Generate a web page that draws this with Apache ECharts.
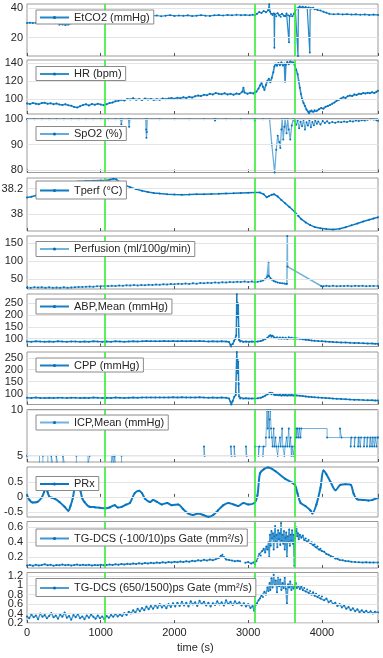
<!DOCTYPE html>
<html><head><meta charset="utf-8">
<script src="https://cdn.jsdelivr.net/npm/echarts@6/dist/echarts.min.js"></script>
<style>html,body{margin:0;padding:0;background:#fff}#c{width:383px;height:658px}</style>
</head><body><div id="c"></div>
<script>
// ---------------- DATA ----------------
const xTicks = [0, 1000, 2000, 3000, 4000];
const eventTimes = [1060, 3090, 3632];
const seriesNames = ['EtCO2 (mmHg)', 'HR (bpm)', 'SpO2 (%)', 'Tperf (°C)', 'Perfusion (ml/100g/min)',
  'ABP,Mean (mmHg)', 'CPP (mmHg)', 'ICP,Mean (mmHg)', 'PRx', 'TG-DCS (-100/10)ps Gate (mm²/s)', 'TG-DCS (650/1500)ps Gate (mm²/s)'];
const yTickLabels = [[20, 40], [100, 120, 140], [80, 90, 100], [38, 38.2], [50, 100, 150], [100, 150, 200, 250],
  [100, 150, 200, 250], [5, 10], [-0.5, 0, 0.5], [0.2, 0.4, 0.6], [0.2, 0.4, 0.6, 0.8, 1, 1.2]];
const yLimits = [[7.6, 42.9], [83.7, 143.7], [79, 100.3], [37.868, 38.282], [22.6, 170], [67.6, 286.7],
  [55, 274], [4.3, 10.1], [-0.667, 0.99], [0.05, 0.68], [0.2, 1.27]];

const etco2 = [[0,30],[40,30.2],[80,30],[120,30.1],[180,30],[240,30.2],[300,30],[360,30.1],[420,29.8],[440,28.8],[480,29],[520,28.7],[560,28.9],[600,29.9],[660,30],[720,30.2],[780,30],[840,30.1],[900,30.3],[960,30.1],[1020,30.4],[1060,32],[1100,34.5],[1160,34.8],[1220,34.6],[1280,35],[1340,34.7],[1400,35.1],[1460,34.8],[1520,35],[1580,34.6],[1640,35.2],[1700,34.9],[1760,35.1],[1820,34.6],[1880,35],[1940,35.3],[2000,34.8],[2060,35.1],[2120,34.9],[2180,35.2],[2240,34.7],[2300,35],[2360,35.3],[2420,35],[2480,34.8],[2540,35.2],[2600,35.4],[2660,35.1],[2720,35.5],[2780,35.2],[2840,35.6],[2900,35.3],[2960,35.5],[3020,35.2],[3060,35.6],[3090,35.3],[3120,36.2],[3150,37.5],[3180,36.8],[3210,38.2],[3240,37.3],[3270,38.6],[3285,42.8],[3295,37.8],[3310,36.2],[3330,35.4],[3350,36.5],[3355,13.2],[3360,35.8],[3380,34.6],[3400,36.7],[3420,35.1],[3440,34.3],[3460,36.2],[3480,35],[3500,34.5],[3520,36.4],[3540,35.2],[3553,17],[3560,34.8],[3580,35.9],[3600,34.6],[3620,36.3],[3640,38.5],[3660,39.8],[3675,7.6],[3680,40.6],[3700,41.2],[3720,40.5],[3740,41],[3760,40.3],[3780,40.8],[3800,40.1],[3820,40.6],[3835,10],[3840,40.2],[3860,39.9],[3880,40.3],[3900,39.4],[3940,38.8],[3980,38.5],[4020,37.6],[4060,37],[4100,36.2],[4160,35.9],[4220,36.1],[4280,35.8],[4340,36],[4400,35.7],[4460,35.9],[4520,35.6],[4580,35.8],[4640,35.5],[4700,35.7],[4760,35.5]];

const hr = [[0,95.5],[40,94.8],[80,96],[120,95.2],[160,94.5],[200,95.8],[240,96.3],[280,95],[320,95.6],[360,94.6],[400,95.3],[440,94.2],[480,93.8],[520,94.6],[560,93.5],[600,92.8],[640,91.5],[680,91],[720,92.4],[760,93.6],[800,94.5],[840,93.2],[880,94.8],[920,93.9],[960,95],[1000,94.2],[1040,93.5],[1080,94.6],[1120,95.8],[1160,96.5],[1200,97.8],[1240,98.4],[1280,99.6],[1320,98.7],[1360,100.5],[1400,99.8],[1440,101.2],[1480,99.6],[1520,100.4],[1560,99.2],[1600,100.8],[1640,99.9],[1680,100.5],[1720,99.4],[1760,100.2],[1800,99.6],[1840,100.9],[1880,100.1],[1920,100.8],[1960,101.5],[2000,100.6],[2040,101.8],[2080,101.2],[2120,102.4],[2160,101.6],[2200,102.8],[2240,101.9],[2280,103.5],[2320,104.2],[2360,103.6],[2400,105],[2440,104.5],[2480,106.2],[2520,105.4],[2560,107],[2600,106.1],[2640,105.6],[2680,106.8],[2720,105.4],[2760,106.3],[2800,105.1],[2840,106.5],[2880,105.8],[2920,108.5],[2935,113],[2950,107.5],[2990,106.2],[3030,107.4],[3070,106.6],[3090,107.8],[3110,108.5],[3140,112],[3160,115.5],[3180,118],[3200,114],[3220,110.5],[3240,116],[3260,120.5],[3280,122.8],[3300,119],[3320,124],[3340,130],[3355,136.5],[3370,139.5],[3390,137.2],[3410,140.5],[3430,138],[3450,141.2],[3470,137.5],[3490,139.8],[3500,119.5],[3510,138.5],[3530,141.5],[3550,139],[3570,142],[3590,140.2],[3610,141],[3630,138],[3650,133],[3670,128],[3685,120],[3700,113],[3715,106],[3730,100.5],[3750,96],[3770,92.5],[3790,88.6],[3810,86.5],[3825,84.5],[3840,86.8],[3860,87.5],[3880,86.2],[3900,88],[3930,87.2],[3960,89],[3990,90.5],[4020,89.6],[4050,91.8],[4080,92.5],[4110,93.8],[4140,95.2],[4170,96.6],[4200,98.5],[4230,99.4],[4260,101],[4290,102.3],[4320,101.6],[4350,103.5],[4380,104.2],[4410,103.7],[4440,105.5],[4470,104.8],[4500,106.3],[4530,105.9],[4560,107],[4590,106.4],[4620,107.3],[4650,106.7],[4680,107.8],[4710,107.1],[4740,108.5],[4760,109.4]];

const spo2 = [[0,100],[100,100],[200,100],[300,100],[400,100],[500,100],[600,100],[700,100],[800,100],[900,100],[1000,100],[1100,100],[1200,100],[1270,100],[1280,98],[1290,100],[1375,100],[1385,97],[1395,100],[1610,100],[1615,96],[1620,92.7],[1625,95],[1630,100],[1800,100],[2000,100],[2200,100],[2400,100],[2540,100],[2550,99.5],[2560,100],[2700,100],[2900,100],[3080,100],[3090,99.5],[3100,100],[3200,100],[3290,100],[3320,90],[3358,79],[3380,88],[3400,93.5],[3420,91],[3435,88.7],[3450,96],[3460,100],[3475,92],[3490,97],[3500,100],[3520,94.5],[3535,100],[3550,96],[3570,92],[3590,97.5],[3610,100],[3630,99.2],[3650,97.8],[3670,99.5],[3690,96.5],[3710,99],[3730,97.2],[3750,99.8],[3770,96],[3790,98.8],[3810,97.5],[3830,99.6],[3850,96.8],[3870,98.9],[3890,97.6],[3910,99.4],[3930,98.2],[3950,99.1],[3980,97.9],[4010,99.3],[4040,98.5],[4070,99.2],[4100,98.4],[4140,98.9],[4180,98.6],[4220,99],[4260,98.8],[4300,99.1],[4340,98.9],[4380,99.3],[4420,99.1],[4460,99.5],[4500,99.3],[4540,99.6],[4580,99.5],[4620,99.8],[4660,100],[4700,99.9],[4740,99.6],[4760,99.4]];

const tperf = [[0,38.13],[60,38.135],[120,38.145],[200,38.165],[300,38.19],[400,38.215],[500,38.235],[600,38.25],[700,38.255],[800,38.258],[900,38.26],[1000,38.262],[1060,38.262],[1120,38.268],[1170,38.276],[1210,38.272],[1260,38.25],[1320,38.228],[1400,38.21],[1480,38.195],[1560,38.183],[1640,38.172],[1720,38.165],[1800,38.16],[1900,38.156],[2000,38.153],[2100,38.152],[2200,38.153],[2300,38.155],[2400,38.156],[2500,38.157],[2600,38.158],[2700,38.16],[2800,38.162],[2900,38.165],[3000,38.167],[3090,38.168],[3160,38.168],[3210,38.155],[3250,38.132],[3280,38.14],[3320,38.152],[3350,38.155],[3400,38.138],[3450,38.11],[3500,38.085],[3560,38.055],[3630,38.018],[3680,37.985],[3720,37.96],[3780,37.935],[3840,37.914],[3900,37.9],[3980,37.889],[4060,37.883],[4150,37.88],[4240,37.886],[4320,37.898],[4400,37.912],[4480,37.926],[4560,37.942],[4640,37.956],[4700,37.966],[4760,37.975]];

const perfusion = [[0,27],[50,26.2],[100,27.8],[150,26.5],[200,27.4],[250,26],[300,27.2],[350,25.8],[400,26.9],[450,26.3],[500,27.5],[550,26.1],[600,27],[650,27.8],[700,28.5],[750,28],[800,29.2],[850,29.8],[900,29.1],[950,30.5],[1000,30],[1050,31.2],[1100,30.6],[1150,31.8],[1200,30.9],[1250,32.2],[1300,31.5],[1350,33],[1400,32.1],[1450,33.5],[1500,32.6],[1550,34],[1600,33.2],[1650,34.6],[1700,33.8],[1750,35.2],[1800,34.3],[1850,35.8],[1900,34.9],[1950,36.4],[2000,35.5],[2050,37],[2100,36.2],[2150,37.6],[2200,36.8],[2250,38.5],[2300,37.5],[2350,39.2],[2400,38.3],[2450,40],[2500,39],[2550,41],[2600,39.8],[2650,41.5],[2700,40.6],[2750,42.2],[2800,41.2],[2850,42.8],[2900,41.8],[2950,43.2],[3000,42.3],[3050,43.5],[3090,41.5],[3130,42.6],[3170,44.2],[3200,46.5],[3230,50],[3255,56],[3270,60],[3276,98.6],[3282,58],[3300,53],[3320,49],[3345,45],[3370,42.5],[3400,40.8],[3430,39.6],[3460,38.5],[3490,37.8],[3515,36.6],[3525,37.2],[3530,170],[3533,85],[3990,31],[4020,30.2],[4060,31.4],[4100,30.5],[4150,31.6],[4200,30.3],[4250,31.2],[4300,30.6],[4350,31.5],[4400,30.4],[4450,31.3],[4500,30.7],[4550,31.6],[4600,30.5],[4650,31.2],[4700,30.8],[4760,31.1]];

const abp = [[0,88.5],[60,87.6],[120,89.2],[180,88],[240,87.3],[300,88.8],[360,87.9],[420,89],[480,88.2],[540,87.5],[600,88.9],[660,88.1],[720,87.4],[780,88.6],[840,87.8],[900,89.3],[960,88.4],[1020,87.6],[1080,88.7],[1140,87.9],[1200,89.1],[1260,88.3],[1320,87.5],[1380,88.9],[1440,89.6],[1500,88.8],[1560,89.4],[1620,90.1],[1680,89.2],[1740,90],[1800,89.3],[1860,90.2],[1920,89.5],[1980,90.4],[2040,89.7],[2100,90.6],[2160,89.8],[2220,90.3],[2280,89.6],[2340,90.5],[2400,89.4],[2460,88.6],[2520,89.5],[2580,88.7],[2640,89.2],[2700,88.4],[2740,86],[2760,74],[2770,68],[2790,78],[2810,92],[2830,100],[2838,114],[2845,286],[2850,205],[2855,250],[2860,190],[2865,240],[2870,150],[2875,95],[2890,88],[2930,87.5],[2970,88.4],[3010,87.6],[3050,88.3],[3090,87.9],[3130,88.6],[3170,90.5],[3200,94],[3230,98.5],[3260,104],[3280,110],[3300,114.5],[3315,108],[3330,112],[3350,104],[3370,102.5],[3390,106],[3410,101.5],[3430,104.8],[3450,100.6],[3470,105],[3490,101.2],[3510,104.5],[3530,100.4],[3550,106.5],[3570,101.8],[3590,104.6],[3610,100.9],[3630,103.5],[3660,101.2],[3700,99.5],[3740,97.6],[3780,96],[3820,94.3],[3860,92.8],[3900,91.5],[3950,90.2],[4000,89.1],[4050,88],[4100,87.2],[4150,86.1],[4200,85.5],[4260,84.6],[4320,83.9],[4380,83.1],[4440,82.5],[4500,81.8],[4560,81.2],[4620,80.5],[4680,79.8],[4720,79.2],[4760,78.6]];

const cpp = [[0,83],[60,82.2],[120,83.8],[180,82.6],[240,81.9],[300,83.4],[360,82.5],[420,83.6],[480,82.8],[540,82.1],[600,83.5],[660,82.7],[720,82],[780,83.2],[840,82.4],[900,83.9],[960,83],[1020,82.2],[1080,83.3],[1140,82.5],[1200,83.7],[1260,82.9],[1320,82.1],[1380,83.5],[1440,84],[1500,83.2],[1560,84.1],[1620,84.6],[1680,83.7],[1740,84.5],[1800,83.8],[1860,84.7],[1920,84],[1980,84.8],[2040,84.1],[2100,85],[2160,84.2],[2220,84.7],[2280,84],[2340,84.8],[2400,83.9],[2460,83.1],[2520,84],[2580,83.2],[2640,83.7],[2700,82.9],[2740,80],[2760,66],[2770,55],[2790,70],[2810,86],[2830,95],[2838,102],[2845,274],[2850,200],[2855,245],[2860,185],[2865,233],[2870,140],[2875,88],[2890,80.5],[2930,79.8],[2970,80.6],[3010,79.9],[3050,80.4],[3090,80],[3130,80.8],[3170,83],[3200,87],[3230,92],[3260,97.5],[3280,101],[3300,104.5],[3315,98],[3330,102],[3350,96],[3370,94.5],[3390,98.5],[3410,93.6],[3430,97.2],[3450,93],[3470,97.6],[3490,93.4],[3510,96.8],[3530,92.7],[3550,98.6],[3570,93.8],[3590,96.5],[3610,92.5],[3630,95.2],[3660,93],[3700,91.6],[3740,90],[3780,88.8],[3820,87.5],[3860,86.3],[3900,85.2],[3950,84],[4000,83.1],[4050,82.2],[4100,81.3],[4150,80.2],[4200,79.3],[4260,78.2],[4320,77.1],[4380,76],[4440,75.2],[4500,74.4],[4560,73.7],[4620,73.1],[4680,72.6],[4720,72.2],[4760,71.8]];

const icp = [[0,5],[170,4],[215,5],[283,4],[329,5],[351,4],[397,5],[420,4],[487,5],[510,4],[670,5],[827,4],[850,5],[1145,4],[1167,5],[1175,4],[1190,5],[1200,4],[1282,5],[2400,6],[2410,5],[2765,6],[2775,5],[2810,6],[2820,5],[2970,6],[2980,5],[3090,6],[3140,5],[3150,6],[3200,5],[3210,6],[3240,7],[3255,10],[3265,8],[3275,10],[3285,7],[3290,9],[3300,10],[3310,8],[3320,7],[3330,6],[3345,8],[3355,6],[3370,7],[3380,6],[3400,5],[3410,6],[3430,7],[3440,6],[3460,8],[3470,6],[3490,5],[3500,6],[3520,7],[3530,6],[3550,8],[3560,6],[3575,7],[3585,5],[3595,6],[3610,5],[3625,6],[3640,7],[3650,8],[3660,7],[3670,8],[3685,7],[3695,8],[3710,7],[3720,8],[4070,7],[4245,8],[4265,7],[4390,6],[4400,7],[4440,6],[4450,7],[4490,6],[4500,7],[4520,6],[4530,7],[4570,6],[4580,7],[4610,6],[4620,7],[4650,6],[4660,7],[4680,6],[4690,7],[4710,6],[4720,7],[4740,6],[4750,7],[4760,7]];

const prx = [[0,0.06],[35,-0.11],[75,-0.19],[140,-0.17],[200,-0.02],[230,0.15],[255,0.3],[280,0.15],[305,0],[340,-0.03],[375,-0.06],[440,-0.17],[510,-0.33],[560,-0.46],[590,-0.3],[620,-0.05],[645,0.27],[675,0.5],[700,0.45],[725,0.2],[750,-0.05],[780,-0.17],[850,-0.33],[920,-0.34],[985,-0.36],[1058,-0.38],[1120,-0.35],[1190,-0.28],[1230,-0.35],[1285,-0.33],[1340,-0.26],[1395,-0.2],[1460,0.12],[1520,0.2],[1560,0.12],[1600,-0.06],[1670,-0.17],[1710,-0.1],[1760,-0.16],[1830,-0.25],[1900,-0.2],[1965,-0.28],[2050,-0.25],[2115,-0.4],[2185,-0.55],[2250,-0.6],[2320,-0.55],[2390,-0.6],[2460,-0.66],[2525,-0.6],[2590,-0.45],[2660,-0.28],[2730,-0.2],[2800,-0.25],[2865,-0.3],[2935,-0.2],[3000,-0.25],[3085,-0.2],[3125,0.05],[3160,0.78],[3215,0.92],[3270,0.97],[3370,0.85],[3500,0.6],[3630,0.41],[3670,0.1],[3710,-0.2],[3775,-0.3],[3845,-0.45],[3870,-0.55],[3925,-0.25],[3980,0.3],[4020,0.87],[4060,0.75],[4115,0.5],[4185,0.22],[4250,0.4],[4320,0.42],[4390,0.4],[4430,0.1],[4480,-0.08],[4550,-0.1],[4630,-0.12],[4685,-0.1],[4760,-0.03]];

const tgEarly = [[0,0.085],[40,0.09],[80,0.08],[120,0.095],[160,0.085],[200,0.09],[240,0.1],[280,0.088],[320,0.095],[360,0.082],[400,0.092],[440,0.087],[480,0.097],[520,0.088],[560,0.093],[600,0.084],[640,0.09],[680,0.096],[720,0.086],[760,0.094],[800,0.088],[840,0.093],[880,0.085],[920,0.091],[960,0.087],[1000,0.094],[1040,0.086],[1080,0.09],[1120,0.098],[1160,0.092],[1200,0.1],[1240,0.094],[1280,0.103],[1320,0.097],[1360,0.108],[1400,0.1],[1440,0.11],[1480,0.104],[1520,0.115],[1560,0.108],[1600,0.118],[1640,0.112],[1680,0.12],[1720,0.113],[1760,0.125],[1800,0.117],[1840,0.128],[1880,0.121],[1920,0.132],[1960,0.125],[2000,0.135],[2040,0.128],[2080,0.138],[2120,0.131],[2160,0.142],[2200,0.135],[2240,0.148],[2280,0.14],[2320,0.155],[2360,0.147],[2400,0.162],[2440,0.15],[2480,0.165],[2520,0.156],[2560,0.17],[2600,0.185],[2630,0.215],[2650,0.23],[2670,0.2],[2700,0.165],[2740,0.158],[2780,0.15],[2820,0.142],[2860,0.148],[2890,0.14],[2920,'-'],[2960,0.12],[3000,0.13],[3040,0.11],[3070,0.125],[3090,0.1],[3110,0.14],[3130,0.19],[3150,0.24],[3170,0.22],[3190,0.28],[3210,0.31],[3230,0.26],[3245,0.34],[3260,0.3],[3275,0.4],[3285,0.2],[3295,0.5],[3305,0.35],[3315,0.55],[3325,0.45],[3335,0.52],[3345,0.3],[3355,0.48],[3365,0.62],[3375,0.4],[3385,0.5],[3395,0.33],[3405,0.56],[3415,0.44],[3425,0.52],[3435,0.36],[3445,0.66],[3455,0.42],[3465,0.5],[3475,0.38],[3485,0.55],[3495,0.3],[3505,0.46],[3515,0.53],[3525,0.2],[3535,0.48],[3545,0.4],[3555,0.57],[3565,0.35],[3575,0.5],[3585,0.42],[3595,0.56],[3605,0.38],[3615,0.5],[3625,0.08],[3635,0.45],[3645,0.55],[3655,0.6],[3665,0.48],[3675,0.52],[3685,0.44],[3700,0.5],[3720,0.46],[3740,0.49],[3760,0.43],[3780,0.45],[3800,0.41],[3820,0.43],[3840,0.39],[3860,0.4],[3880,0.36],[3900,0.37],[3920,0.33],[3940,0.34],[3960,0.3],[3980,0.31],[4000,0.28],[4030,0.27],[4060,0.24],[4090,0.23],[4120,0.21],[4150,0.2],[4180,0.18],[4210,0.175],[4240,0.16],[4280,0.155],[4320,0.145],[4360,0.14],[4400,0.135],[4450,0.13],[4500,0.128],[4550,0.125],[4600,0.127],[4650,0.124],[4700,0.126],[4760,0.125]];

const tgLate = [[0,0.34],[30,0.3],[60,0.38],[90,0.32],[120,0.36],[150,0.28],[180,0.4],[210,0.33],[240,0.37],[270,0.3],[300,0.35],[330,0.41],[360,0.32],[390,0.36],[420,0.29],[450,0.38],[480,0.33],[510,0.42],[540,0.31],[570,0.35],[600,0.27],[630,0.37],[660,0.32],[690,0.39],[720,0.3],[750,0.34],[780,0.28],[810,0.36],[840,0.31],[870,0.38],[900,0.33],[930,0.29],[960,0.36],[990,0.3],[1020,0.34],[1050,0.28],[1080,0.35],[1110,0.31],[1140,0.37],[1170,0.33],[1200,0.39],[1230,0.34],[1260,0.38],[1290,0.35],[1320,0.41],[1350,0.37],[1380,0.44],[1410,0.4],[1440,0.47],[1470,0.42],[1500,0.5],[1530,0.45],[1560,0.52],[1590,0.47],[1620,0.55],[1650,0.49],[1680,0.56],[1710,0.5],[1740,0.58],[1770,0.52],[1800,0.6],[1830,0.53],[1860,0.58],[1890,0.51],[1920,0.6],[1950,0.54],[1980,0.62],[2010,0.55],[2040,0.63],[2070,0.56],[2100,0.65],[2130,0.57],[2160,0.63],[2190,0.55],[2220,0.66],[2250,0.59],[2280,0.64],[2310,0.56],[2340,0.67],[2370,0.6],[2400,0.65],[2430,0.57],[2460,0.63],[2490,0.55],[2520,0.62],[2550,0.58],[2580,0.66],[2610,0.59],[2640,0.64],[2670,0.57],[2700,0.68],[2730,0.6],[2760,0.65],[2790,0.58],[2820,0.66],[2850,0.6],[2880,0.64],[2910,0.57],[2940,0.62],[2970,0.55],[3000,0.6],[3030,0.52],[3060,0.56],[3080,0.46],[3100,0.58],[3120,0.62],[3140,0.68],[3160,0.72],[3180,0.78],[3200,0.75],[3220,0.86],[3240,0.8],[3260,0.95],[3275,0.88],[3290,1.05],[3300,0.9],[3315,1.15],[3330,0.95],[3345,1.22],[3360,1.0],[3375,1.1],[3390,0.85],[3405,1.18],[3420,0.98],[3435,1.12],[3450,0.9],[3465,1.05],[3480,0.94],[3495,1.16],[3510,0.92],[3525,0.62],[3540,1.02],[3555,0.95],[3570,1.08],[3585,0.9],[3600,1.0],[3615,0.93],[3630,0.97],[3645,1.05],[3660,0.94],[3680,0.99],[3700,0.92],[3720,0.97],[3740,0.9],[3760,0.94],[3780,0.87],[3800,0.91],[3820,0.84],[3840,0.88],[3860,0.8],[3880,0.85],[3900,0.78],[3920,0.82],[3940,0.75],[3960,0.79],[3980,0.72],[4000,0.76],[4030,0.68],[4060,0.72],[4090,0.64],[4120,0.67],[4150,0.6],[4180,0.63],[4210,0.56],[4240,0.6],[4270,0.53],[4300,0.57],[4330,0.5],[4360,0.54],[4390,0.47],[4420,0.51],[4450,0.45],[4480,0.49],[4510,0.43],[4540,0.47],[4570,0.42],[4600,0.46],[4630,0.41],[4660,0.45],[4690,0.4],[4720,0.44],[4760,0.42]];

const allData = [etco2, hr, spo2, tperf, perfusion, abp, cpp, icp, prx, tgEarly, tgLate];

// ---------------- LAYOUT ----------------
const FONT = 'Liberation Sans, Arial, Helvetica, sans-serif';
const BLUE = '#0072BD';
const X_MAX = 4760;
const panelTop = [4, 60, 118.5, 178, 236, 294, 352, 409.5, 467, 521.5, 572.5];
const panelBot = [56, 114, 172.5, 231, 289, 346.5, 404.5, 462, 517, 568, 623];
const legendTop = [10, 66.5, 126.5, 181, 241.5, 299, 358, 415, 476.5, 529, 578.5];
const legendPad = [[2,4,1,3],[2,4,1,3],[2,4,1,3],[4,4,3,3],[2,4,2,3],[2,4,2,3],[2,4,1,3],[2,4,2,3],[2,4,1,3],[4,4,2,3],[4,4,3,3]];
const lineAlpha = [0.85, 0.8, 0.6, 0.95, 0.55, 0.9, 0.9, 0.55, 0.95, 0.75, 0.7];
const lineW = [1.2, 1.6, 1.2, 1.5, 1.5, 1.5, 1.5, 1, 2, 1.5, 1.5];
const N = 11;

function yAxisDef(i, labels, withTicks) {
  return { gridIndex: i, type: 'value', min: yLimits[i][0], max: yLimits[i][1], position: 'left', offset: 0,
    axisLine: { show: false }, splitLine: { show: false },
    axisTick: { show: withTicks, inside: true, length: 3, lineStyle: { color: '#555' }, customValues: yTickLabels[i] },
    axisLabel: { fontSize: 11, color: '#262626', margin: 4, fontFamily: FONT, customValues: labels,
      interval: 0, hideOverlap: false, showMinLabel: true, showMaxLabel: true, formatter: v => String(v) } };
}

const grids = [], xAxes = [], yAxes = [], series = [], legends = [];
for (let i = 0; i < N; i++) {
  grids.push({ left: 27, width: 351, top: panelTop[i], height: panelBot[i] - panelTop[i],
    show: true, borderColor: '#9a9a9a', borderWidth: 1, backgroundColor: '#fff', outerBoundsMode: 'none' });
  xAxes.push({ gridIndex: i, type: 'value', min: 0, max: X_MAX, interval: 1000,
    axisLine: { show: false }, splitLine: { show: false },
    axisTick: { show: true, inside: true, length: 3, lineStyle: { color: '#555' } },
    axisLabel: { show: i === N - 1, fontSize: 11, color: '#262626', margin: 4, fontFamily: FONT,
      customValues: xTicks, formatter: v => String(v), hideOverlap: false } });
  // crowded last panel: split labels over two overlaid axes so none get hidden
  const labs = (i === N - 1) ? yTickLabels[i].filter((v, k) => k % 2 === 0) : yTickLabels[i];
  yAxes.push(yAxisDef(i, labs, true));
  // grid lines (behind data)
  series.push({ name: 'g' + i, type: 'line', xAxisIndex: i, yAxisIndex: i, data: [], z: 1, silent: true,
    markLine: { silent: true, symbol: ['none', 'none'], label: { show: false }, animation: false,
      lineStyle: { color: '#e4e4e4', width: 1, type: 'solid' },
      data: yTickLabels[i].map(v => ({ yAxis: v })) } });
  const s = {
    name: seriesNames[i], type: 'line', xAxisIndex: i, yAxisIndex: i, data: allData[i],
    showSymbol: true, symbol: 'circle', symbolSize: 2, clip: true, z: 3,
    lineStyle: { width: lineW[i], color: BLUE, opacity: lineAlpha[i] },
    itemStyle: { color: BLUE },
    emphasis: { disabled: true },
    animation: false,
    markLine: { silent: true, symbol: ['none', 'none'], label: { show: false }, animation: false, z: 5,
      lineStyle: { color: '#33ee33', width: 1.6, type: 'solid', opacity: 1 },
      data: eventTimes.map(t => ({ xAxis: t })) }
  };
  if (i === 7) s.step = 'end';
  if (i === 8) { s.smooth = 0.3; }
  series.push(s);
  legends.push({ data: [seriesNames[i]], left: 36, top: legendTop[i], orient: 'horizontal',
    backgroundColor: '#fff', borderColor: '#8a8a8a', borderWidth: 1, borderRadius: 0,
    padding: legendPad[i], itemWidth: 29, itemHeight: 4, itemGap: 0, selectedMode: false, z: 10,
    textStyle: { fontSize: 11, color: '#262626', fontFamily: FONT } });
}
// second label axis for the last panel (odd-indexed labels)
yAxes.push(yAxisDef(N - 1, yTickLabels[N - 1].filter((v, k) => k % 2 === 1), false));

const chart = echarts.init(document.getElementById('c'), null, { renderer: 'canvas' });
chart.setOption({
  animation: false,
  backgroundColor: '#fff',
  textStyle: { fontFamily: FONT },
  grid: grids, xAxis: xAxes, yAxis: yAxes, series: series, legend: legends,
  graphic: [{ type: 'text', left: 177, top: 642, style: { text: 'time (s)', fontSize: 11, fill: '#262626', font: '11px ' + FONT } }]
});
</script></body></html>
